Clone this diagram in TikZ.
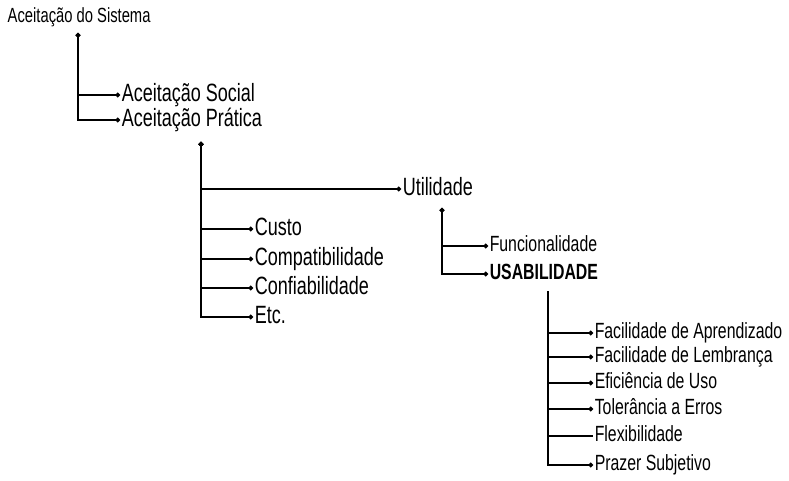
\documentclass[tikz,border=0pt]{standalone}
\usepackage{fontspec}
\setmainfont{Liberation Sans}[FakeStretch=0.72]
\usetikzlibrary{arrows.meta}

\begin{document}
\begin{tikzpicture}[x=1pt,y=-1pt,line width=1.5pt]
\tikzstyle{lbl}=[anchor=west,inner sep=1pt,text height=18pt,text depth=5pt,font=\fontsize{25}{28}\selectfont]
\tikzstyle{sub}=[lbl,text height=16pt,text depth=4.5pt,font=\fontsize{22}{25}\selectfont]
\tikzstyle{elbow}=[-{Circle[length=4.5pt]}, to path={|- (\tikztotarget)}]
\tikzstyle{elbowdot}=[elbow, {Circle[length=4.5pt]}-{Circle[length=4.5pt]}]
\useasboundingbox (0,0) rectangle (789,481);
\node[lbl,text height=15pt,text depth=4pt,font=\fontsize{20.5}{23}\selectfont] (sis) at (6,17) {Aceitação do Sistema};
\node[lbl] (soc)  at (120,95)  {Aceitação Social};
\node[lbl] (prat) at (120,120) {Aceitação Prática};
\node[lbl] (util) at (401,189) {Utilidade};
\node[lbl] (cust) at (253,229) {Custo};
\node[lbl] (comp) at (253,259) {Compatibilidade};
\node[lbl] (conf) at (253,288) {Confiabilidade};
\node[lbl] (etc)  at (253,317) {Etc.};
\node[sub] (func) at (488,246) {Funcionalidade};
\node[sub,font=\fontsize{22}{25}\bfseries] (usab) at (488,274) {USABILIDADE};
\node[sub] (apr)  at (593,333) {Facilidade de Aprendizado};
\node[sub] (lem)  at (593,357) {Facilidade de Lembrança};
\node[sub] (efi)  at (593,383) {Eficiência de Uso};
\node[sub] (tol)  at (593,409) {Tolerância a Erros};
\node[sub] (flex) at (593,436) {Flexibilidade};
\node[sub] (praz) at (593,465) {Prazer Subjetivo};
% stems below each parent
\coordinate (sisStem)  at (78,33);
\coordinate (pratStem) at (201,142);
\coordinate (utilStem) at (442,208);
\coordinate (usabStem) at (548,291);
\path
(sisStem)  edge[elbowdot] (soc)
           edge[elbowdot] (prat)
(pratStem) edge[elbowdot] (util)
           edge[elbowdot] (cust)
           edge[elbowdot] (comp)
           edge[elbowdot] (conf)
           edge[elbowdot] (etc)
(utilStem) edge[elbowdot] (func)
           edge[elbowdot] (usab)
(usabStem) edge[elbow]    (apr)
           edge[elbow]    (lem)
           edge[elbow]    (efi)
           edge[elbow]    (tol)
           edge[elbow,-]  (flex)
           edge[elbow]    (praz);
\end{tikzpicture}
\end{document}
